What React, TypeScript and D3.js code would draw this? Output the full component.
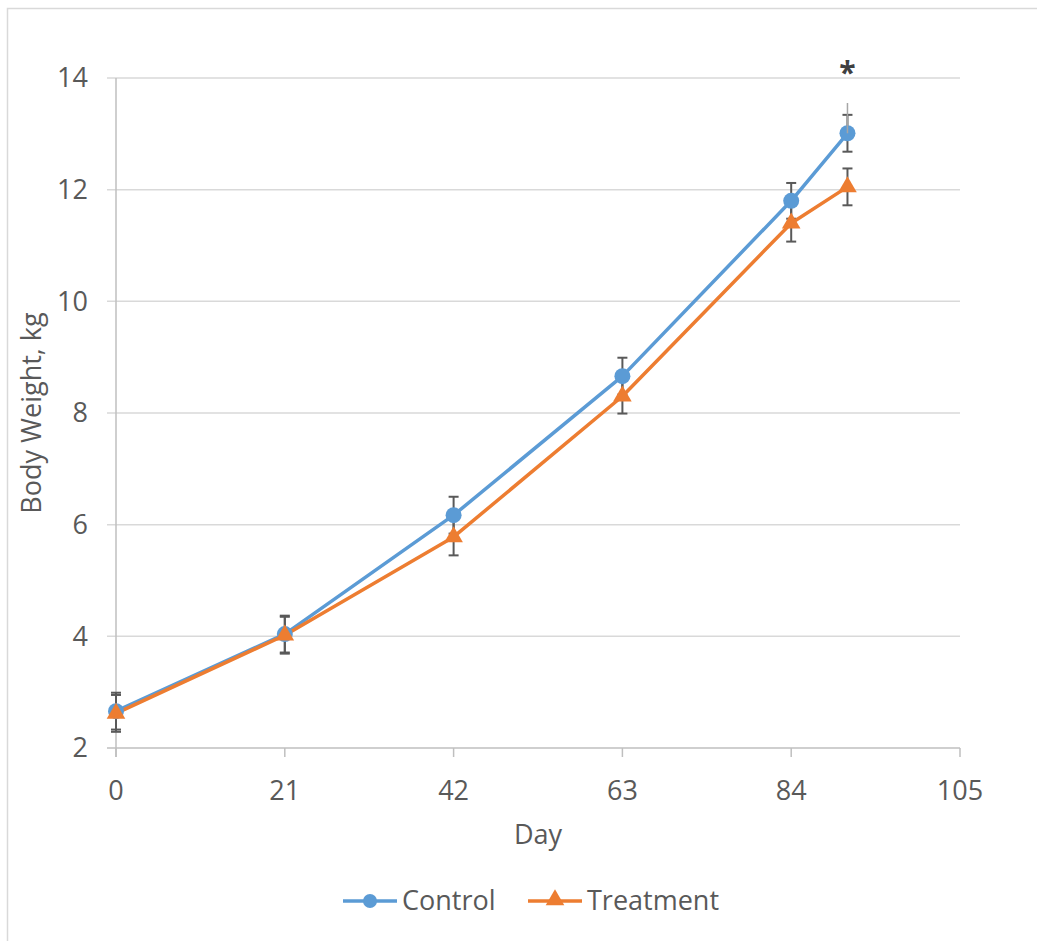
import React from 'react';
import * as d3 from 'd3';

const days = [0, 21, 42, 63, 84, 91];
const control = [2.66, 4.04, 6.17, 8.66, 11.8, 13.01];
const treatment = [2.62, 4.02, 5.78, 8.3, 11.4, 12.05];
const controlErr = [0.33, 0.33, 0.33, 0.33, 0.32, 0.33];
const treatmentErr = [0.33, 0.33, 0.33, 0.31, 0.33, 0.33];
const xTicks = [0, 21, 42, 63, 84, 105];
const yTicks = [2, 4, 6, 8, 10, 12, 14];

const W = 1037;
const H = 941;
const FONT = '"Open Sans", sans-serif';
const FS = 27;
const TEXT = '#595959';
const GRID = '#d9d9d9';
const BLUE = '#5b9bd5';
const ORANGE = '#ed7d31';

export default function App() {
  const x = d3.scaleLinear().domain([0, 105]).range([116, 960]);
  const y = d3.scaleLinear().domain([2, 14]).range([748, 78]);

  const line = d3.line<number>()
    .x((_, i) => x(days[i]))
    .y((v) => y(v));

  const triangle = d3.symbol().type(d3.symbolTriangle).size(150)();

  // error bars for one series
  const errBars = (vals: number[], errs: number[], key: string) =>
    vals.map((v, i) => {
      const cx = x(days[i]);
      const top = y(v + errs[i]);
      const bot = y(v - errs[i]);
      return (
        <g key={key + i} stroke="#595959" strokeWidth={2}>
          <line x1={cx} x2={cx} y1={top} y2={bot} />
          <line x1={cx - 5} x2={cx + 5} y1={top} y2={top} />
          <line x1={cx - 5} x2={cx + 5} y1={bot} y2={bot} />
        </g>
      );
    });

  return (
    <svg width={W} height={H} style={{ position: 'absolute', left: 0, top: 0, display: 'block' }}
      fontFamily={FONT}>
      <rect x={0} y={0} width={W} height={H} fill="#fff" />
      {/* chart frame */}
      <path d={`M7.5,${H + 2} V8.5 H${W + 2}`} fill="none" stroke={GRID} strokeWidth={1.5} />

      {/* gridlines + y ticks */}
      {yTicks.map((t) => (
        <g key={'g' + t}>
          <line x1={107} x2={960} y1={y(t)} y2={y(t)} stroke={t === 2 ? '#bfbfbf' : GRID} strokeWidth={1.5} />
          <text x={88} y={y(t)} dy="0.35em" textAnchor="end" fontSize={FS} fill={TEXT}>{t}</text>
        </g>
      ))}
      {/* y axis line */}
      <line x1={x(0)} x2={x(0)} y1={y(14)} y2={757} stroke="#bfbfbf" strokeWidth={1.5} />
      {/* x ticks */}
      {xTicks.map((t) => (
        <g key={'x' + t}>
          <line x1={x(t)} x2={x(t)} y1={y(2)} y2={757} stroke="#bfbfbf" strokeWidth={1.5} />
          <text x={x(t)} y={800} textAnchor="middle" fontSize={FS} fill={TEXT}>{t}</text>
        </g>
      ))}

      <text x={538} y={844} textAnchor="middle" fontSize={FS} fill={TEXT}>Day</text>
      <text transform={`translate(41,413) rotate(-90)`} textAnchor="middle" fontSize={FS} fill={TEXT}>Body Weight, kg</text>

      {errBars(control, controlErr, 'ce')}
      {errBars(treatment, treatmentErr, 'te')}

      <path d={line(control) ?? ''} fill="none" stroke={BLUE} strokeWidth={3.5} strokeLinejoin="round" />
      <path d={line(treatment) ?? ''} fill="none" stroke={ORANGE} strokeWidth={3.5} strokeLinejoin="round" />

      {control.map((v, i) => (
        <circle key={'c' + i} cx={x(days[i])} cy={y(v)} r={8} fill={BLUE} />
      ))}
      {treatment.map((v, i) => (
        <path key={'t' + i} d={triangle ?? ''} transform={`translate(${x(days[i])},${y(v)})`} fill={ORANGE} />
      ))}

      {/* significance marker */}
      <line x1={x(91)} x2={x(91)} y1={103} y2={y(13.01)} stroke="#a6a6a6" strokeWidth={1.5} />
      <text x={x(91)} y={83} textAnchor="middle" fontSize={30} fontWeight="bold" fill="#404040">*</text>

      {/* legend */}
      <g>
        <line x1={343} x2={397} y1={901} y2={901} stroke={BLUE} strokeWidth={3.5} />
        <circle cx={370} cy={901} r={7} fill={BLUE} />
        <text x={402} y={901} dy="0.35em" fontSize={FS} fill={TEXT}>Control</text>
        <line x1={528} x2={582} y1={901} y2={901} stroke={ORANGE} strokeWidth={3.5} />
        <path d={triangle ?? ''} transform="translate(555,900)" fill={ORANGE} />
        <text x={587} y={901} dy="0.35em" fontSize={FS} fill={TEXT}>Treatment</text>
      </g>
    </svg>
  );
}
